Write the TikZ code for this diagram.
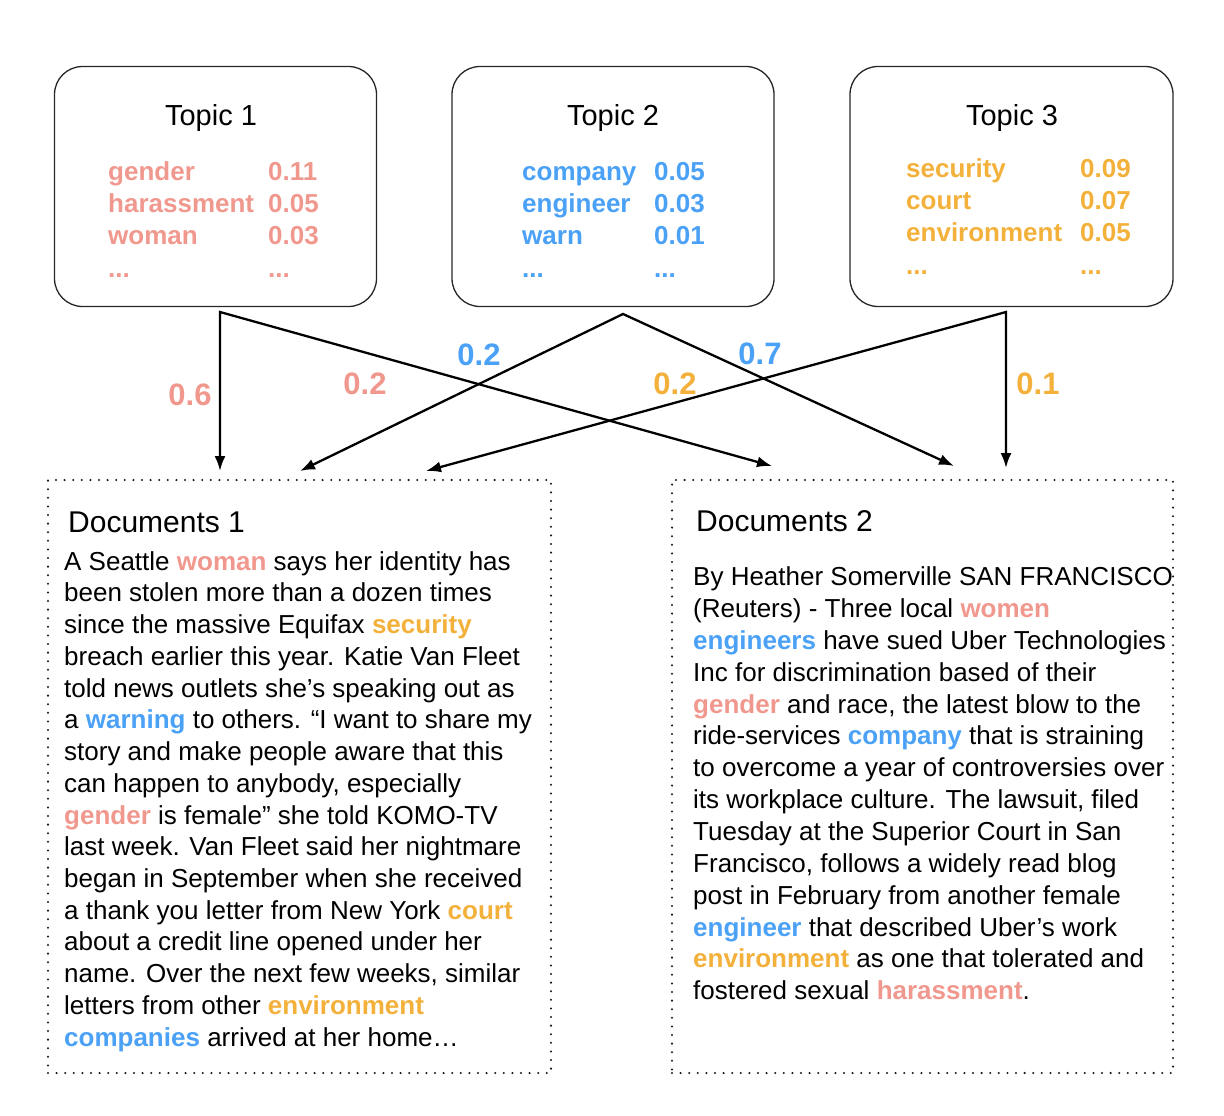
\documentclass[tikz,border=0pt]{standalone}
\usepackage{fontspec}
\setmainfont{Liberation Sans}
\usetikzlibrary{arrows.meta}
\definecolor{tpink}{RGB}{241,152,142}
\definecolor{tblue}{RGB}{74,161,246}
\definecolor{torange}{RGB}{243,177,60}
\newcommand{\pk}[1]{\textbf{\color{tpink}#1}}
\newcommand{\bl}[1]{\textbf{\color{tblue}#1}}
\newcommand{\og}[1]{\textbf{\color{torange}#1}}

\begin{document}
\begin{tikzpicture}[x=1pt,y=-1pt,>={Latex[length=15pt,width=11pt]},
  topic/.style={draw=black!85,line width=1.3pt,rounded corners=28pt,minimum width=322pt,minimum height=240pt,inner sep=0pt},
  doc/.style={draw=black!90,line width=2.3pt,line cap=round,dash pattern=on 0pt off 8.6pt,minimum height=593pt,inner sep=0pt}]
\useasboundingbox (0,0) rectangle (1224,1116);
\tikzset{ttl/.style={font=\fontsize{29}{34}\selectfont,anchor=base,inner sep=0pt}}
\tikzset{tw/.style={font=\fontsize{26}{32.3}\selectfont\bfseries,align=left,anchor=north west,inner sep=0pt}}
\tikzset{wlab/.style={font=\fontsize{31}{36}\selectfont\bfseries,anchor=base,inner sep=0pt}}
\tikzset{body/.style={align=left,anchor=north west,inner sep=0pt}}

% topics
\node[topic] (t1) at (215.5,186.5) {};
\node[topic] (t2) at (613,186.5) {};
\node[topic,minimum width=323pt] (t3) at (1011.5,186.5) {};
\node[ttl] (t1t) at (211,125) {Topic 1};
\node[ttl] (t2t) at (613,125) {Topic 2};
\node[ttl] (t3t) at (1012,125) {Topic 3};
\node[tw,text=tpink] (t1w) at (108,157.4) {\strut gender\\harassment\\woman\\...};
\node[tw,text=tpink] (t1v) at (268,157.4) {\strut 0.11\\0.05\\0.03\\...};
\node[tw,text=tblue] (t2w) at (522,157.4) {\strut company\\engineer\\warn\\...};
\node[tw,text=tblue] (t2v) at (654,157.4) {\strut 0.05\\0.03\\0.01\\...};
\node[tw,text=torange] (t3w) at (906,154.4) {\strut security\\court\\environment\\...};
\node[tw,text=torange] (t3v) at (1080,154.4) {\strut 0.09\\0.07\\0.05\\...};

% documents
\node[doc,minimum width=503pt] (d1) at (299.5,776.5) {};
\node[doc,minimum width=501pt] (d2) at (922.5,776.5) {};
\node[ttl,anchor=base west,font=\fontsize{30}{36}\selectfont] (d1t) at (68,532) {Documents 1};
\node[ttl,anchor=base west,font=\fontsize{30}{36}\selectfont] (d2t) at (696,531.5) {Documents 2};
\node[body,font=\fontsize{26}{31.73}\selectfont] (d1b) at (64,547.8) {\strut A Seattle \pk{woman} says her identity has\\
been stolen more than a dozen times\\
since the massive Equifax \og{security}\\
breach earlier this year. Katie Van Fleet\\
told news outlets she’s speaking out as\\
a \bl{warning} to others. “I want to share my\\
story and make people aware that this\\
can happen to anybody, especially\\
\pk{gender} is female” she told KOMO-TV\\
last week. Van Fleet said her nightmare\\
began in September when she received\\
a thank you letter from New York \og{court}\\
about a credit line opened under her\\
name. Over the next few weeks, similar\\
letters from other \og{environment}\\
\bl{companies} arrived at her home…};
\node[body,font=\fontsize{26}{31.85}\selectfont] (d2b) at (693,563.2) {\strut By Heather Somerville SAN FRANCISCO\\
(Reuters) - Three local \pk{women}\\
\bl{engineers} have sued Uber Technologies\\
Inc for discrimination based of their\\
\pk{gender} and race, the latest blow to the\\
ride-services \bl{company} that is straining\\
to overcome a year of controversies over\\
its workplace culture. The lawsuit, filed\\
Tuesday at the Superior Court in San\\
Francisco, follows a widely read blog\\
post in February from another female\\
\bl{engineer} that described Uber’s work\\
\og{environment} as one that tolerated and\\
fostered sexual \pk{harassment}.};

% weights
\coordinate (t1o) at (220,312);
\coordinate (t2o) at (623,314);
\coordinate (t3o) at (1006,312);
\coordinate (d1x) at (220,471);
\coordinate (d1y) at (300,471);
\coordinate (d1z) at (426,471);
\coordinate (d2x) at (772,466);
\coordinate (d2y) at (954,466);
\coordinate (d2z) at (1006,468);
\draw[<->,line width=2.3pt] (d1x) -- (t1o) -- (d2x);
\draw[<->,line width=2.3pt] (d1y) -- (t2o) -- (d2y);
\draw[<->,line width=2.3pt] (d1z) -- (t3o) -- (d2z);
\node[wlab,text=tpink] (w11) at (190,405) {0.6};
\node[wlab,text=tpink] (w12) at (365,394) {0.2};
\node[wlab,text=tblue] (w21) at (479,365) {0.2};
\node[wlab,text=tblue] (w22) at (760,364) {0.7};
\node[wlab,text=torange] (w31) at (675,394) {0.2};
\node[wlab,text=torange] (w32) at (1038,394) {0.1};
\end{tikzpicture}
\end{document}
